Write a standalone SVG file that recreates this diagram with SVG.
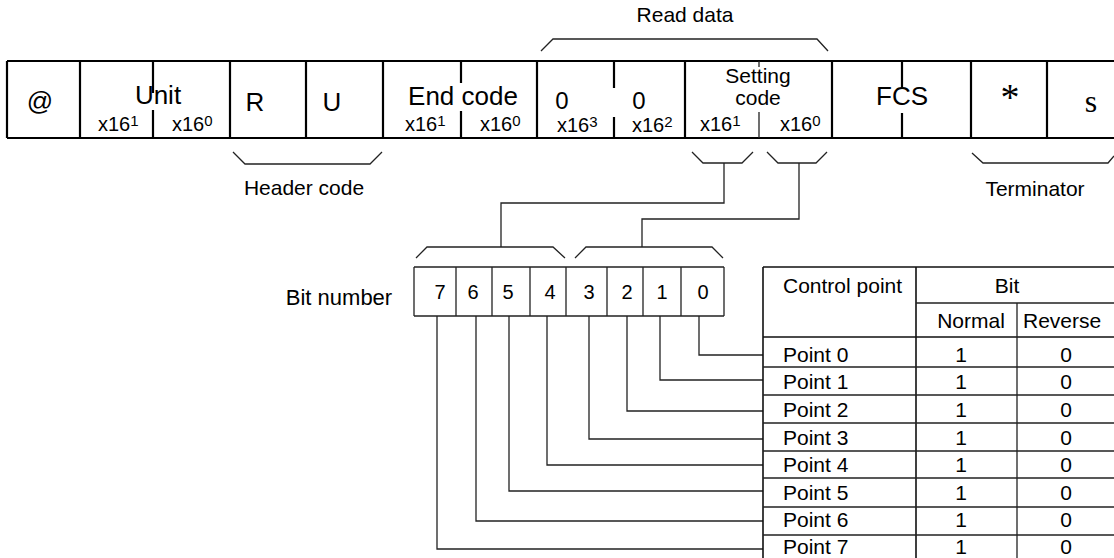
<svg xmlns="http://www.w3.org/2000/svg" width="1114" height="558" viewBox="0 0 1114 558">
<style>
.thick{stroke:#000;stroke-width:2.2;fill:none}
.mid{stroke:#111;stroke-width:1.6;fill:none}
.thin{stroke:#222;stroke-width:1.3;fill:none}
.t{font-family:"Liberation Sans",Arial,sans-serif;fill:#000}
.big{font-size:26px}
.lab{font-size:21px}
.sub{font-size:20px}
.sup{font-size:15px}
.c{text-anchor:middle}
</style>
<rect width="1114" height="558" fill="#fff"/>

<g id="frame">
  <path class="thick" d="M7,61 H1114 M7,138 H1114 M7,61 V138 M80,61 V138 M230,61 V138 M306,61 V138 M383,61 V138 M537,61 V138 M685,61 V138 M832,61 V138 M971,61 V138 M1047,61 V138"/>
  <path class="thick" d="M153,61 V93 M153,110 V138 M461,61 V83 M461,111 V138 M614,61 V88 M614,117 V138 M902,61 V88 M902,113 V138"/>
  <path class="thin" d="M759,61 V67 M759,112 V138"/>
</g>

<g id="cell-at"><text class="t big c" x="40" y="110">@</text></g>
<g id="cell-unit">
  <text class="t big c" x="158" y="104">Unit</text>
  <text class="t sub" x="98" y="131">x16<tspan class="sup" dy="-5">1</tspan></text>
  <text class="t sub" x="172" y="131">x16<tspan class="sup" dy="-5">0</tspan></text>
</g>
<g id="cell-r"><text class="t big c" x="255" y="111">R</text></g>
<g id="cell-u"><text class="t big c" x="332" y="111">U</text></g>
<g id="cell-endcode">
  <text class="t big c" x="463" y="105">End code</text>
  <text class="t sub" x="405" y="131">x16<tspan class="sup" dy="-5">1</tspan></text>
  <text class="t sub" x="480" y="131">x16<tspan class="sup" dy="-5">0</tspan></text>
</g>
<g id="cell-zero3">
  <text class="t c" font-size="24" x="562" y="109">0</text>
  <text class="t sub" x="557" y="132">x16<tspan class="sup" dy="-5">3</tspan></text>
</g>
<g id="cell-zero2">
  <text class="t c" font-size="24" x="639" y="109">0</text>
  <text class="t sub" x="632" y="132">x16<tspan class="sup" dy="-5">2</tspan></text>
</g>
<g id="cell-setting">
  <text class="t lab c" x="758" y="83">Setting</text>
  <text class="t lab c" x="758" y="105">code</text>
  <text class="t sub" x="700" y="131">x16<tspan class="sup" dy="-5">1</tspan></text>
  <text class="t sub" x="780" y="131">x16<tspan class="sup" dy="-5">0</tspan></text>
</g>
<g id="cell-fcs"><text class="t big c" x="902" y="105">FCS</text></g>
<g id="cell-star"><text x="1010" y="110" font-family="Liberation Serif,Times New Roman,serif" font-size="38" text-anchor="middle">*</text></g>
<g id="cell-s"><text x="1091" y="112" font-family="Liberation Serif,Times New Roman,serif" font-size="32" text-anchor="middle">s</text></g>

<g id="brackets">
  <path class="thin" d="M541,51 L553,39 H817 L828,51"/>
  <path class="thin" d="M233,152 L245,164 H370 L382,152"/>
  <path class="thin" d="M972,153 L983,163 H1108 L1114,156"/>
  <path class="thin" d="M692,152 L703,163 H742 L753,152"/>
  <path class="thin" d="M767,152 L778,163 H816 L827,152"/>
  <path class="thin" d="M416,258 L427,247 H553 L565,258"/>
  <path class="thin" d="M575,258 L586,247 H712 L723,258"/>
</g>

<g id="labels">
  <text class="t lab c" x="685" y="22">Read data</text>
  <text class="t lab c" x="304" y="195">Header code</text>
  <text class="t lab c" x="1035" y="196">Terminator</text>
  <text class="t c" font-size="22" x="339" y="305">Bit number</text>
</g>

<g id="bits">
  <path class="thin" d="M414,267 H724 M414,316 H724 M414,267 V316 M456,267 V316 M492,267 V316 M530,267 V316 M566,267 V316 M607,267 V316 M643,267 V316 M681,267 V316 M724,267 V316"/>
  <text class="t sub c" x="440" y="299">7</text>
  <text class="t sub c" x="473" y="299">6</text>
  <text class="t sub c" x="508" y="299">5</text>
  <text class="t sub c" x="550" y="299">4</text>
  <text class="t sub c" x="589" y="299">3</text>
  <text class="t sub c" x="627" y="299">2</text>
  <text class="t sub c" x="662" y="299">1</text>
  <text class="t sub c" x="703" y="299">0</text>
</g>

<g id="connectors">
  <path class="thin" d="M724,163 V203 H501 V247"/>
  <path class="thin" d="M799,163 V219 H642 V247"/>
  <path class="thin" d="M699,316 V355 H763"/>
  <path class="thin" d="M660,316 V380 H763"/>
  <path class="thin" d="M627,316 V411 H763"/>
  <path class="thin" d="M589,316 V439 H763"/>
  <path class="thin" d="M547,316 V465 H763"/>
  <path class="thin" d="M509,316 V491 H763"/>
  <path class="thin" d="M476,316 V521 H763"/>
  <path class="thin" d="M437,316 V549 H763"/>
</g>

<g id="table">
  <path class="mid" d="M763,267 H1114 M763,337 H1114 M763,267 V558 M916,267 V558"/>
  <path class="thin" d="M916,303 H1114 M1017,303 V558 M763,367 H1114 M763,395 H1114 M763,423 H1114 M763,451 H1114 M763,478 H1114 M763,507 H1114 M763,535 H1114"/>
  <text class="t lab" x="783" y="293">Control point</text>
  <text class="t lab c" x="1007" y="293">Bit</text>
  <text class="t lab c" x="971" y="328">Normal</text>
  <text class="t lab" x="1023" y="328">Reverse</text>
  <g class="t lab">
    <text x="783" y="362">Point 0</text>
    <text x="783" y="389">Point 1</text>
    <text x="783" y="417">Point 2</text>
    <text x="783" y="445">Point 3</text>
    <text x="783" y="472">Point 4</text>
    <text x="783" y="500">Point 5</text>
    <text x="783" y="527">Point 6</text>
    <text x="783" y="554">Point 7</text>
  </g>
  <g class="t lab c">
    <text x="961" y="362">1</text><text x="1066" y="362">0</text>
    <text x="961" y="389">1</text><text x="1066" y="389">0</text>
    <text x="961" y="417">1</text><text x="1066" y="417">0</text>
    <text x="961" y="445">1</text><text x="1066" y="445">0</text>
    <text x="961" y="472">1</text><text x="1066" y="472">0</text>
    <text x="961" y="500">1</text><text x="1066" y="500">0</text>
    <text x="961" y="527">1</text><text x="1066" y="527">0</text>
    <text x="961" y="554">1</text><text x="1066" y="554">0</text>
  </g>
</g>
</svg>
